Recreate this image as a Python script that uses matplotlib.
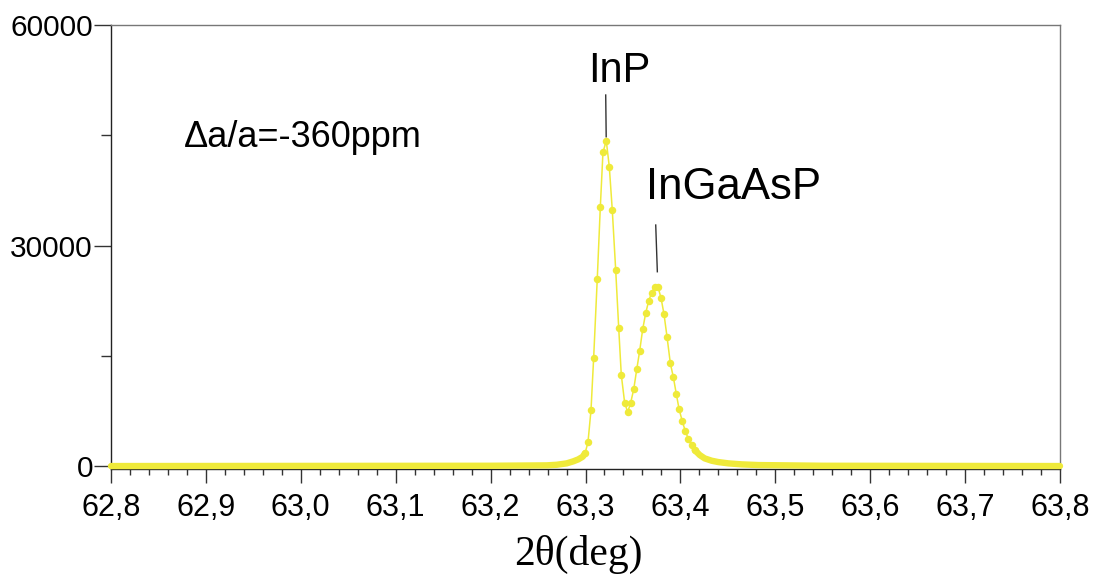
import matplotlib
matplotlib.use("Agg")
import matplotlib.pyplot as plt
from matplotlib.ticker import FixedLocator, FixedFormatter

# ---- data ----
left_tail_x = [62.80, 63.20, 63.2591, 63.2697, 63.2802, 63.2871, 63.2924, 63.2970, 63.2995]
left_tail_y = [0, 40, 95, 177, 367, 640, 911, 1265, 1728]

peak_x = [63.2995, 63.3026, 63.3058, 63.3086, 63.3124, 63.3156, 63.3184, 63.3219,
          63.3251, 63.3282, 63.3318, 63.3350, 63.3377, 63.3413, 63.3445, 63.3476,
          63.3508, 63.3540, 63.3571, 63.3603, 63.3634, 63.3666, 63.3698, 63.3729,
          63.3764, 63.3796, 63.3827, 63.3859, 63.3894, 63.3926, 63.3957, 63.3986,
          63.4020, 63.4052, 63.4083, 63.4119, 63.4151]
peak_y = [1728, 3224, 7619, 14734, 25482, 35196, 42679, 44257,
          40679, 34870, 26707, 18775, 12421, 8571, 7347, 8612,
          10435, 13156, 15686, 18639, 20775, 22489, 23578, 24353,
          24353, 22856, 20680, 17591, 13972, 12068, 9796, 7755,
          6081, 4762, 3714, 2816, 2177]

right_tail_x = [63.4151, 63.4204, 63.4256, 63.4330, 63.4399, 63.4505, 63.4646, 63.4821, 63.55, 63.80]
right_tail_y = [2177, 1497, 1043, 725, 544, 367, 231, 136, 40, 0]

x_ticks = [62.8, 62.9, 63.0, 63.1, 63.2, 63.3, 63.4, 63.5, 63.6, 63.7, 63.8]
x_tick_labels = ["62,8", "62,9", "63,0", "63,1", "63,2", "63,3", "63,4", "63,5", "63,6", "63,7", "63,8"]
x_minor = [62.8 + 0.02 * i for i in range(51)]
y_ticks = [0, 30000, 60000]
y_tick_labels = ["0", "30000", "60000"]
y_minor = [15000, 45000]

label_inp = "InP"
label_ingaasp = "InGaAsP"
label_delta = "\u0394a/a=-360ppm"
xlabel = "2\u03b8(deg)"

# annotation anchors (data coords)
inp_line = ([63.3213, 63.3218], [50475, 44800])
ingaasp_line = ([63.3740, 63.3757], [32788, 26434])

yellow = "#EFEA3A"

plt.rcParams['font.family'] = ['Liberation Sans', 'DejaVu Sans']
fig = plt.figure(figsize=(10.99, 5.83), dpi=100)
ax = fig.add_axes([111/1099, 1 - 469/583, (1060 - 111)/1099, (469 - 25)/583])

ax.plot(left_tail_x, left_tail_y, color=yellow, lw=4.6, solid_capstyle='round',
        solid_joinstyle='round', clip_on=False, zorder=3)
ax.plot(right_tail_x, right_tail_y, color=yellow, lw=4.6, solid_capstyle='round',
        solid_joinstyle='round', clip_on=False, zorder=3)
ax.plot(peak_x, peak_y, color=yellow, lw=1.1, marker='o', ms=5.4,
        markeredgewidth=0, markerfacecolor=yellow, zorder=4, clip_on=False)

ax.plot(*inp_line, color="#333333", lw=1.0, zorder=5)
ax.plot(*ingaasp_line, color="#333333", lw=1.0, zorder=5)

ax.text(63.3353, 52300, label_inp, fontsize=30, ha='center', va='baseline')
ax.text(63.3640, 36300, label_ingaasp, fontsize=31.5, ha='left', va='baseline')
ax.text(62.877, 43400, label_delta, fontsize=26, ha='left', va='baseline')

ax.set_xlim(62.8, 63.8)
ax.set_ylim(-400, 60000)

ax.xaxis.set_major_locator(FixedLocator(x_ticks))
ax.xaxis.set_major_formatter(FixedFormatter(x_tick_labels))
ax.xaxis.set_minor_locator(FixedLocator(x_minor))
ax.yaxis.set_major_locator(FixedLocator(y_ticks))
ax.yaxis.set_major_formatter(FixedFormatter(y_tick_labels))
ax.yaxis.set_minor_locator(FixedLocator(y_minor))

ax.tick_params(axis='x', which='major', direction='out', length=10, width=1.0,
               color='#333333', labelsize=22, pad=7)
ax.tick_params(axis='x', which='minor', direction='out', length=4, width=1.0, color='#333333')
ax.tick_params(axis='y', which='major', direction='out', length=12, width=1.0,
               color='#333333', labelsize=21.5, pad=1)
ax.tick_params(axis='y', which='minor', direction='out', length=7, width=1.0, color='#333333')

for s in ['left', 'bottom']:
    ax.spines[s].set_color('#222222')
    ax.spines[s].set_linewidth(1.0)
for s in ['top', 'right']:
    ax.spines[s].set_color('#777777')
    ax.spines[s].set_linewidth(1.0)

fig.text(578/1099, 1 - 565/583, xlabel, fontsize=30, ha='center', va='baseline',
         family=['Liberation Serif', 'DejaVu Serif'])

fig.savefig("out.png", dpi=100)
